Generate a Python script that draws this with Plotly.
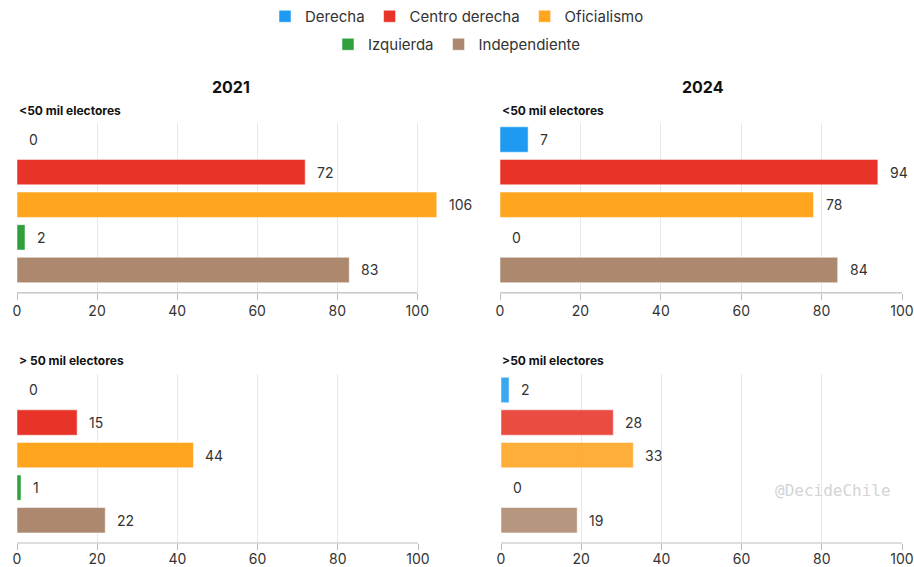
import plotly.graph_objects as go

parties = ["Derecha", "Centro derecha", "Oficialismo", "Izquierda", "Independiente"]
colors = ["#1E9BF0", "#E83428", "#FFA51E", "#30A03C", "#AC886E"]

v2021_small = [0, 72, 106, 2, 83]
v2021_large = [0, 15, 44, 1, 22]
v2024_small = [7, 94, 78, 0, 84]
v2024_large = [2, 28, 33, 0, 19]

years = ["2021", "2024"]
subtitles = [["<50 mil electores", "> 50 mil electores"],
             ["<50 mil electores", ">50 mil electores"]]
tick_vals = [0, 20, 40, 60, 80, 100]

W, H = 914, 567
FONT = "Inter"

# panel: (values, axis suffix, x pixel domain, y pixel domain (top,bottom), xmax, opacity)
panels = [
    (v2021_small, "", (17, 436.5), (123.2, 292.8), 104.8, 1.0),
    (v2024_small, "2", (500, 902), (123.2, 292.8), 100, 1.0),
    (v2021_large, "3", (17, 418), (373.7, 543.0), 100, 1.0),
    (v2024_large, "4", (501, 902), (373.7, 543.0), 100, 0.88),
]

fig = go.Figure()
annotations = []
shapes = []
layout = {}

for pi, (vals, sfx, (xl, xr), (yt, yb), xmax, op) in enumerate(panels):
    xa = "x" + sfx
    ya = "y" + sfx
    for i, (p, v, c) in enumerate(zip(parties, vals, colors)):
        fig.add_trace(go.Bar(
            x=[v], y=[i], orientation="h", name=p,
            marker=dict(color=c, opacity=op, line=dict(color="rgba(255,255,255,0.5)", width=1)),
            width=0.78, xaxis=xa, yaxis=ya,
            showlegend=(pi == 0),
            legend="legend" if i < 3 else "legend2",
            hoverinfo="x+name",
        ))
        annotations.append(dict(
            x=min(v, xmax), y=i, xref=xa, yref=ya, text=str(v), showarrow=False,
            xanchor="left", yanchor="middle", xshift=10,
            font=dict(family=FONT, size=14, color="#333"),
        ))
    layout["xaxis" + sfx] = dict(
        domain=[xl / W, xr / W], range=[0, xmax], anchor=ya,
        tickvals=tick_vals, ticks="outside", ticklen=6, tickcolor="#bbb",
        showgrid=True, gridcolor="#e8e8e8", gridwidth=1,
        showline=False, zeroline=False, automargin=False,
        ticklabelstandoff=(-3 if pi >= 2 else -1),
        tickfont=dict(family=FONT, size=14, color="#333"),
        fixedrange=True,
    )
    layout["yaxis" + sfx] = dict(
        domain=[(H - yb) / H, (H - yt) / H], range=[4.7, -0.5], anchor=xa,
        showticklabels=False, showgrid=False, zeroline=False, showline=False,
        automargin=False, fixedrange=True,
    )
    shapes.append(dict(type="line", xref=xa, yref=ya + " domain",
                       x0=0, x1=100, y0=0, y1=0,
                       line=dict(color="#bbb", width=1.2)))

# Year titles
for j, (yr, cx) in enumerate(zip(years, [231, 703])):
    annotations.append(dict(x=cx / W, y=(H - 87) / H, xref="paper", yref="paper",
                            text="<b>" + yr + "</b>", showarrow=False,
                            xanchor="center", yanchor="middle",
                            font=dict(family=FONT, size=16, color="#111")))

# Subtitles
for j, xpx in enumerate([17, 500]):
    for k, ypx in enumerate([110, 360]):
        annotations.append(dict(x=xpx / W, y=(H - ypx) / H, xref="paper", yref="paper",
                                text="<b>" + subtitles[j][k] + "</b>", showarrow=False,
                                xanchor="left", yanchor="middle",
                                font=dict(family=FONT, size=12, color="#111")))

# Watermark
annotations.append(dict(x=833 / W, y=(H - 490) / H, xref="paper", yref="paper",
                        text="@DecideChile", showarrow=False,
                        xanchor="center", yanchor="middle",
                        font=dict(family="DejaVu Sans Mono", size=16, color="#d4d4d4")))

fig.update_layout(
    width=W, height=H,
    margin=dict(l=0, r=0, t=0, b=0, autoexpand=False),
    paper_bgcolor="white", plot_bgcolor="white",
    barmode="overlay",
    annotations=annotations,
    shapes=shapes,
    legend=dict(orientation="h", x=0.5, xanchor="center", y=1.0, yanchor="top",
                font=dict(family=FONT, size=15, color="#333"), itemwidth=30,
                traceorder="normal", itemclick=False, itemdoubleclick=False),
    legend2=dict(orientation="h", x=0.5, xanchor="center", y=(H - 28) / H, yanchor="top",
                 font=dict(family=FONT, size=15, color="#333"), itemwidth=30,
                 traceorder="normal", itemclick=False, itemdoubleclick=False),
    **layout,
)

fig.write_html("out.html", config={"displayModeBar": False},
               post_script="document.body.style.margin='0';document.body.style.overflow='hidden';")
